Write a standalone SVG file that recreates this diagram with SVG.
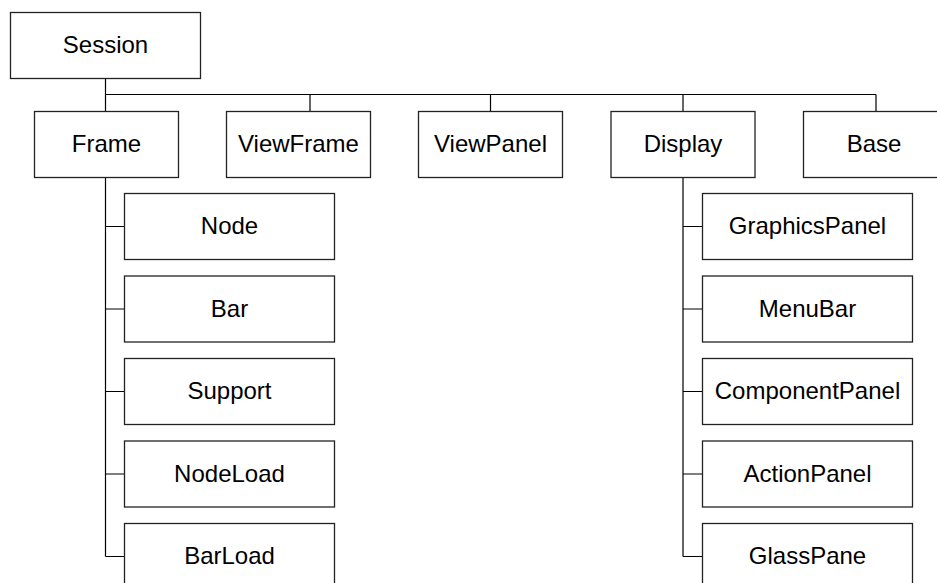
<svg xmlns="http://www.w3.org/2000/svg" width="937" height="583" viewBox="0 0 937 583">
<style>
rect{fill:#fff;stroke:#222;stroke-width:1.3}
text{font-family:"Liberation Sans",Arial,sans-serif;font-size:24px;fill:#000;text-anchor:middle}
.c path{fill:none;stroke:#000;stroke-width:1.2}
</style>
<rect x="0" y="0" width="937" height="583" style="stroke:none"/>
<g class="c" id="connectors">
<path d="M105.5 78.5V111.5M105.5 94.5H876M310 94.5V111.5M490.5 94.5V111.5M683 94.5V111.5M876 94.5V111.5"/>
<path d="M105.5 177.5V556.5M105.5 226.5H124.5M105.5 309H124.5M105.5 391.5H124.5M105.5 474H124.5M105.5 556.5H124.5"/>
<path d="M683 177.5V556.5M683 226.5H702.5M683 309H702.5M683 391.5H702.5M683 474H702.5M683 556.5H702.5"/>
</g>
<g id="session"><rect x="10.5" y="12.5" width="190" height="66"/><text x="105.5" y="53">Session</text></g>
<g id="frame"><rect x="34.5" y="111.5" width="144" height="66"/><text x="106.5" y="152">Frame</text></g>
<g id="viewframe"><rect x="226.5" y="111.5" width="144" height="66"/><text x="298.5" y="152">ViewFrame</text></g>
<g id="viewpanel"><rect x="418.5" y="111.5" width="144" height="66"/><text x="490.5" y="152">ViewPanel</text></g>
<g id="display"><rect x="611" y="111.5" width="144" height="66"/><text x="683" y="152">Display</text></g>
<g id="base"><rect x="803.5" y="111.5" width="145" height="66"/><text x="874" y="152">Base</text></g>
<g id="node"><rect x="124.5" y="193.5" width="210" height="66"/><text x="229.5" y="234">Node</text></g>
<g id="bar"><rect x="124.5" y="276" width="210" height="66"/><text x="229.5" y="316.5">Bar</text></g>
<g id="support"><rect x="124.5" y="358.5" width="210" height="66"/><text x="229.5" y="399">Support</text></g>
<g id="nodeload"><rect x="124.5" y="441" width="210" height="66"/><text x="229.5" y="481.5">NodeLoad</text></g>
<g id="barload"><rect x="124.5" y="523.5" width="210" height="66"/><text x="229.5" y="564">BarLoad</text></g>
<g id="graphicspanel"><rect x="702.5" y="193.5" width="210" height="66"/><text x="807.5" y="234">GraphicsPanel</text></g>
<g id="menubar"><rect x="702.5" y="276" width="210" height="66"/><text x="807.5" y="316.5">MenuBar</text></g>
<g id="componentpanel"><rect x="702.5" y="358.5" width="210" height="66"/><text x="807.5" y="399">ComponentPanel</text></g>
<g id="actionpanel"><rect x="702.5" y="441" width="210" height="66"/><text x="807.5" y="481.5">ActionPanel</text></g>
<g id="glasspane"><rect x="702.5" y="523.5" width="210" height="66"/><text x="807.5" y="564">GlassPane</text></g>
</svg>
